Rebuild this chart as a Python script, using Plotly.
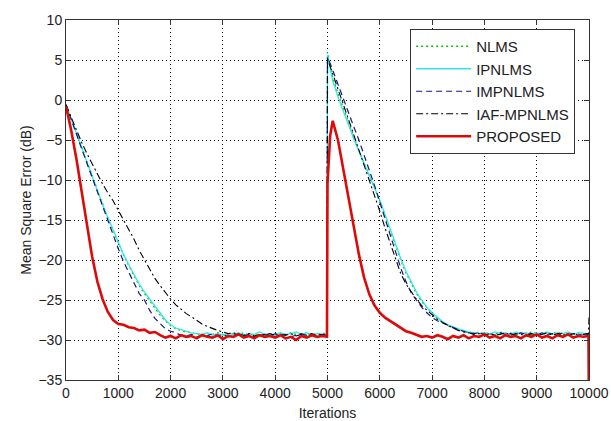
import plotly.graph_objects as go

# iteration grid (extra samples around the step change at 5000 and the final drop)
iterations = (
    list(range(0, 5000, 100))
    + [4990, 5000, 5050]
    + list(range(5100, 10000, 100))
    + [9990, 10000]
)

nlms = [
    -0.6, -2.4, -4.2, -6.0, -7.8, -9.6, -11.3, -13.0, -14.7, -16.3,
    -17.9, -19.4, -20.7, -22.0, -23.2, -24.2, -25.1, -26.0, -26.9, -27.6,
    -28.2, -28.6, -28.8, -29.0, -29.1, -29.3, -29.2, -29.4, -29.3, -29.1,
    -29.3, -29.4, -29.2, -29.3, -29.1, -29.4, -29.2, -29.3, -29.4, -29.2,
    -29.3, -29.2, -29.4, -29.1, -29.3, -29.2, -29.4, -29.2, -29.3, -29.1,
    -29.3, 6.0, 4.4,
    2.8, 0.8, -1.0, -2.8, -4.6, -6.3, -7.9, -9.4, -11.0, -12.7,
    -14.5, -16.4, -18.3, -20.0, -21.6, -23.0, -24.2, -25.2, -26.0, -26.7,
    -27.3, -27.8, -28.2, -28.5, -28.7, -28.9, -29.1, -29.2, -29.0, -29.2,
    -29.1, -29.3, -29.0, -29.2, -29.1, -29.3, -29.1, -29.2, -29.0, -29.2,
    -29.3, -29.1, -29.2, -29.0, -29.3, -29.1, -29.2, -29.1, -29.3,
    -29.2, -29.2,
]

ipnlms = [
    -0.6, -2.4, -4.2, -6.0, -7.8, -9.6, -11.4, -13.1, -14.7, -16.3,
    -17.9, -19.3, -20.6, -21.8, -23.0, -24.0, -24.9, -25.8, -26.7, -27.5,
    -28.1, -28.5, -28.7, -28.9, -29.1, -29.2, -29.3, -29.1, -29.4, -29.2,
    -29.4, -29.2, -29.3, -29.1, -29.4, -29.2, -29.3, -29.0, -29.3, -29.2,
    -29.4, -29.1, -29.3, -29.2, -29.0, -29.3, -29.1, -29.4, -29.2, -29.3,
    -29.3, 5.6, 3.8,
    2.4, 0.4, -1.4, -3.1, -4.8, -6.4, -7.9, -9.3, -10.8, -12.5,
    -14.3, -16.2, -18.1, -19.8, -21.4, -22.8, -24.0, -25.0, -25.9, -26.6,
    -27.2, -27.7, -28.1, -28.4, -28.6, -28.8, -29.0, -29.1, -29.2, -29.1,
    -29.3, -29.0, -29.2, -29.1, -29.3, -29.0, -29.2, -29.1, -29.3, -29.1,
    -29.2, -29.0, -29.3, -29.1, -29.2, -29.0, -29.3, -29.1, -29.2,
    -29.2, -29.2,
]

impnlms = [
    -0.6, -2.5, -4.3, -6.1, -7.9, -9.7, -11.5, -13.2, -15.0, -16.8,
    -18.6, -20.2, -21.6, -23.0, -24.2, -25.0, -26.3, -27.3, -28.0, -28.6,
    -28.9, -29.1, -29.4, -29.5, -29.3, -29.6, -29.4, -29.5, -29.2, -29.5,
    -29.3, -29.6, -29.4, -29.2, -29.5, -29.3, -29.6, -29.4, -29.3, -29.5,
    -29.2, -29.5, -29.3, -29.6, -29.4, -29.2, -29.5, -29.3, -29.4, -29.3,
    -29.4, 5.3, 4.6,
    3.7, 1.9, 0.2, -1.5, -3.3, -5.0, -6.8, -8.8, -10.7, -12.8,
    -14.8, -16.9, -19.0, -21.0, -22.7, -24.1, -25.0, -25.9, -26.6, -27.2,
    -27.6, -27.9, -28.2, -28.5, -28.7, -28.9, -29.1, -29.2, -29.1, -29.3,
    -29.2, -29.4, -29.1, -29.3, -29.2, -29.4, -29.1, -29.3, -29.2, -29.4,
    -29.1, -29.3, -29.2, -29.4, -29.1, -29.3, -29.2, -29.4, -29.2,
    -29.3, -29.3,
]

iaf_mpnlms = [
    -0.6, -2.2, -3.8, -5.3, -6.7, -8.0, -9.3, -10.5, -11.6, -12.6,
    -13.8, -15.0, -16.1, -17.4, -18.8, -20.0, -21.2, -22.3, -23.2, -24.1,
    -24.9, -25.6, -26.2, -26.7, -27.1, -27.6, -28.0, -28.3, -28.6, -28.8,
    -29.0, -29.2, -29.1, -29.3, -29.4, -29.2, -29.5, -29.3, -29.4, -29.2,
    -29.5, -29.3, -29.4, -29.2, -29.5, -29.3, -29.4, -29.2, -29.5, -29.3,
    -29.4, 5.2, 4.2,
    3.3, 1.4, -0.5, -2.4, -4.3, -6.2, -8.2, -10.0, -11.8, -13.9,
    -16.0, -18.0, -20.0, -21.7, -23.0, -24.0, -24.9, -25.7, -26.3, -26.9,
    -27.4, -27.8, -28.2, -28.5, -28.8, -29.0, -29.1, -29.3, -29.2, -29.4,
    -29.2, -29.4, -29.3, -29.1, -29.4, -29.2, -29.3, -29.5, -29.2, -29.4,
    -29.3, -29.1, -29.4, -29.2, -29.3, -29.5, -29.2, -29.4, -29.3,
    -29.2, -27.2,
]

proposed = [
    -0.8, -3.8, -7.4, -11.3, -15.6, -19.6, -22.7, -24.9, -26.5, -27.5,
    -28.0, -28.1, -28.4, -28.5, -28.8, -28.7, -29.1, -29.0, -29.4, -29.7,
    -29.5, -29.8, -29.4, -29.6, -29.5, -29.8, -29.4, -29.6, -29.7, -29.4,
    -29.9, -29.5, -29.6, -29.3, -29.7, -29.5, -29.8, -29.4, -29.6, -29.5,
    -29.7, -29.4, -29.8, -29.6, -30.0, -29.5, -29.7, -29.4, -29.6, -29.5,
    -29.6, -10.5, -4.5,
    -2.6, -5.0, -8.6, -12.4, -15.6, -19.3, -22.2, -24.3, -25.7, -26.6,
    -27.2, -27.6, -28.1, -28.4, -28.9, -29.1, -29.4, -29.6, -29.5, -29.7,
    -29.4, -29.6, -29.9, -29.5, -29.7, -29.4, -29.8, -29.5, -29.6, -29.3,
    -29.7, -29.5, -29.8, -29.4, -29.6, -29.5, -29.8, -29.4, -29.6, -29.3,
    -29.7, -29.5, -29.8, -29.4, -29.6, -29.3, -29.7, -29.5, -29.6,
    -29.5, -40.0,
]

x_ticks = [0, 1000, 2000, 3000, 4000, 5000, 6000, 7000, 8000, 9000, 10000]
x_labels = ["0", "1000", "2000", "3000", "4000", "5000",
            "6000", "7000", "8000", "9000", "10000"]
y_ticks = [-35, -30, -25, -20, -15, -10, -5, 0, 5, 10]

series = [
    ("NLMS", nlms, dict(color="#00c800", width=1.3, dash="2px,3px")),
    ("IPNLMS", ipnlms, dict(color="#33e6e6", width=1.3)),
    ("IMPNLMS", impnlms, dict(color="#14148c", width=1.2, dash="6px,4px")),
    ("IAF-MPNLMS", iaf_mpnlms, dict(color="black", width=1.1, dash="7px,3px,2px,3px")),
    ("PROPOSED", proposed, dict(color="#dd0a0a", width=2.6)),
]

FONT = "Liberation Sans, Arial, sans-serif"

fig = go.Figure()
for name, values, line in series:
    assert len(values) == len(iterations), name
    fig.add_trace(go.Scatter(x=iterations, y=values, name=name, mode="lines", line=line))

axis_style = dict(
    showgrid=True,
    gridcolor="black",
    griddash="1px,3px",
    gridwidth=1,
    showline=True,
    linecolor="#333333",
    linewidth=1,
    mirror="ticks",
    ticks="inside",
    ticklen=5,
    tickcolor="#333333",
    zeroline=False,
    automargin=False,
    tickfont=dict(family=FONT, size=14, color="#222222"),
    title_font=dict(family=FONT, size=14, color="#222222"),
)

fig.update_xaxes(axis_style, range=[0, 10000], tickvals=x_ticks, ticktext=x_labels,
                 title_text="Iterations", title_standoff=14)
fig.update_yaxes(axis_style, range=[-35, 10], tickvals=y_ticks,
                 title_text="Mean Square Error (dB)", title_standoff=3)

fig.update_layout(
    width=611,
    height=421,
    margin=dict(l=66, r=22, t=20, b=41),
    plot_bgcolor="white",
    paper_bgcolor="white",
    font=dict(family=FONT, size=14, color="#222222"),
    legend=dict(
        x=0.658, y=0.975, xanchor="left", yanchor="top",
        bgcolor="white", bordercolor="#333333", borderwidth=1,
        font=dict(family=FONT, size=15, color="#222222"),
        itemwidth=55,
        tracegroupgap=0,
    ),
)

# drop the default page margin so the figure sits at the window's corner
fig.write_html(
    "out.html",
    config={"displayModeBar": False},
    post_script="document.body.style.margin = '0';",
)
